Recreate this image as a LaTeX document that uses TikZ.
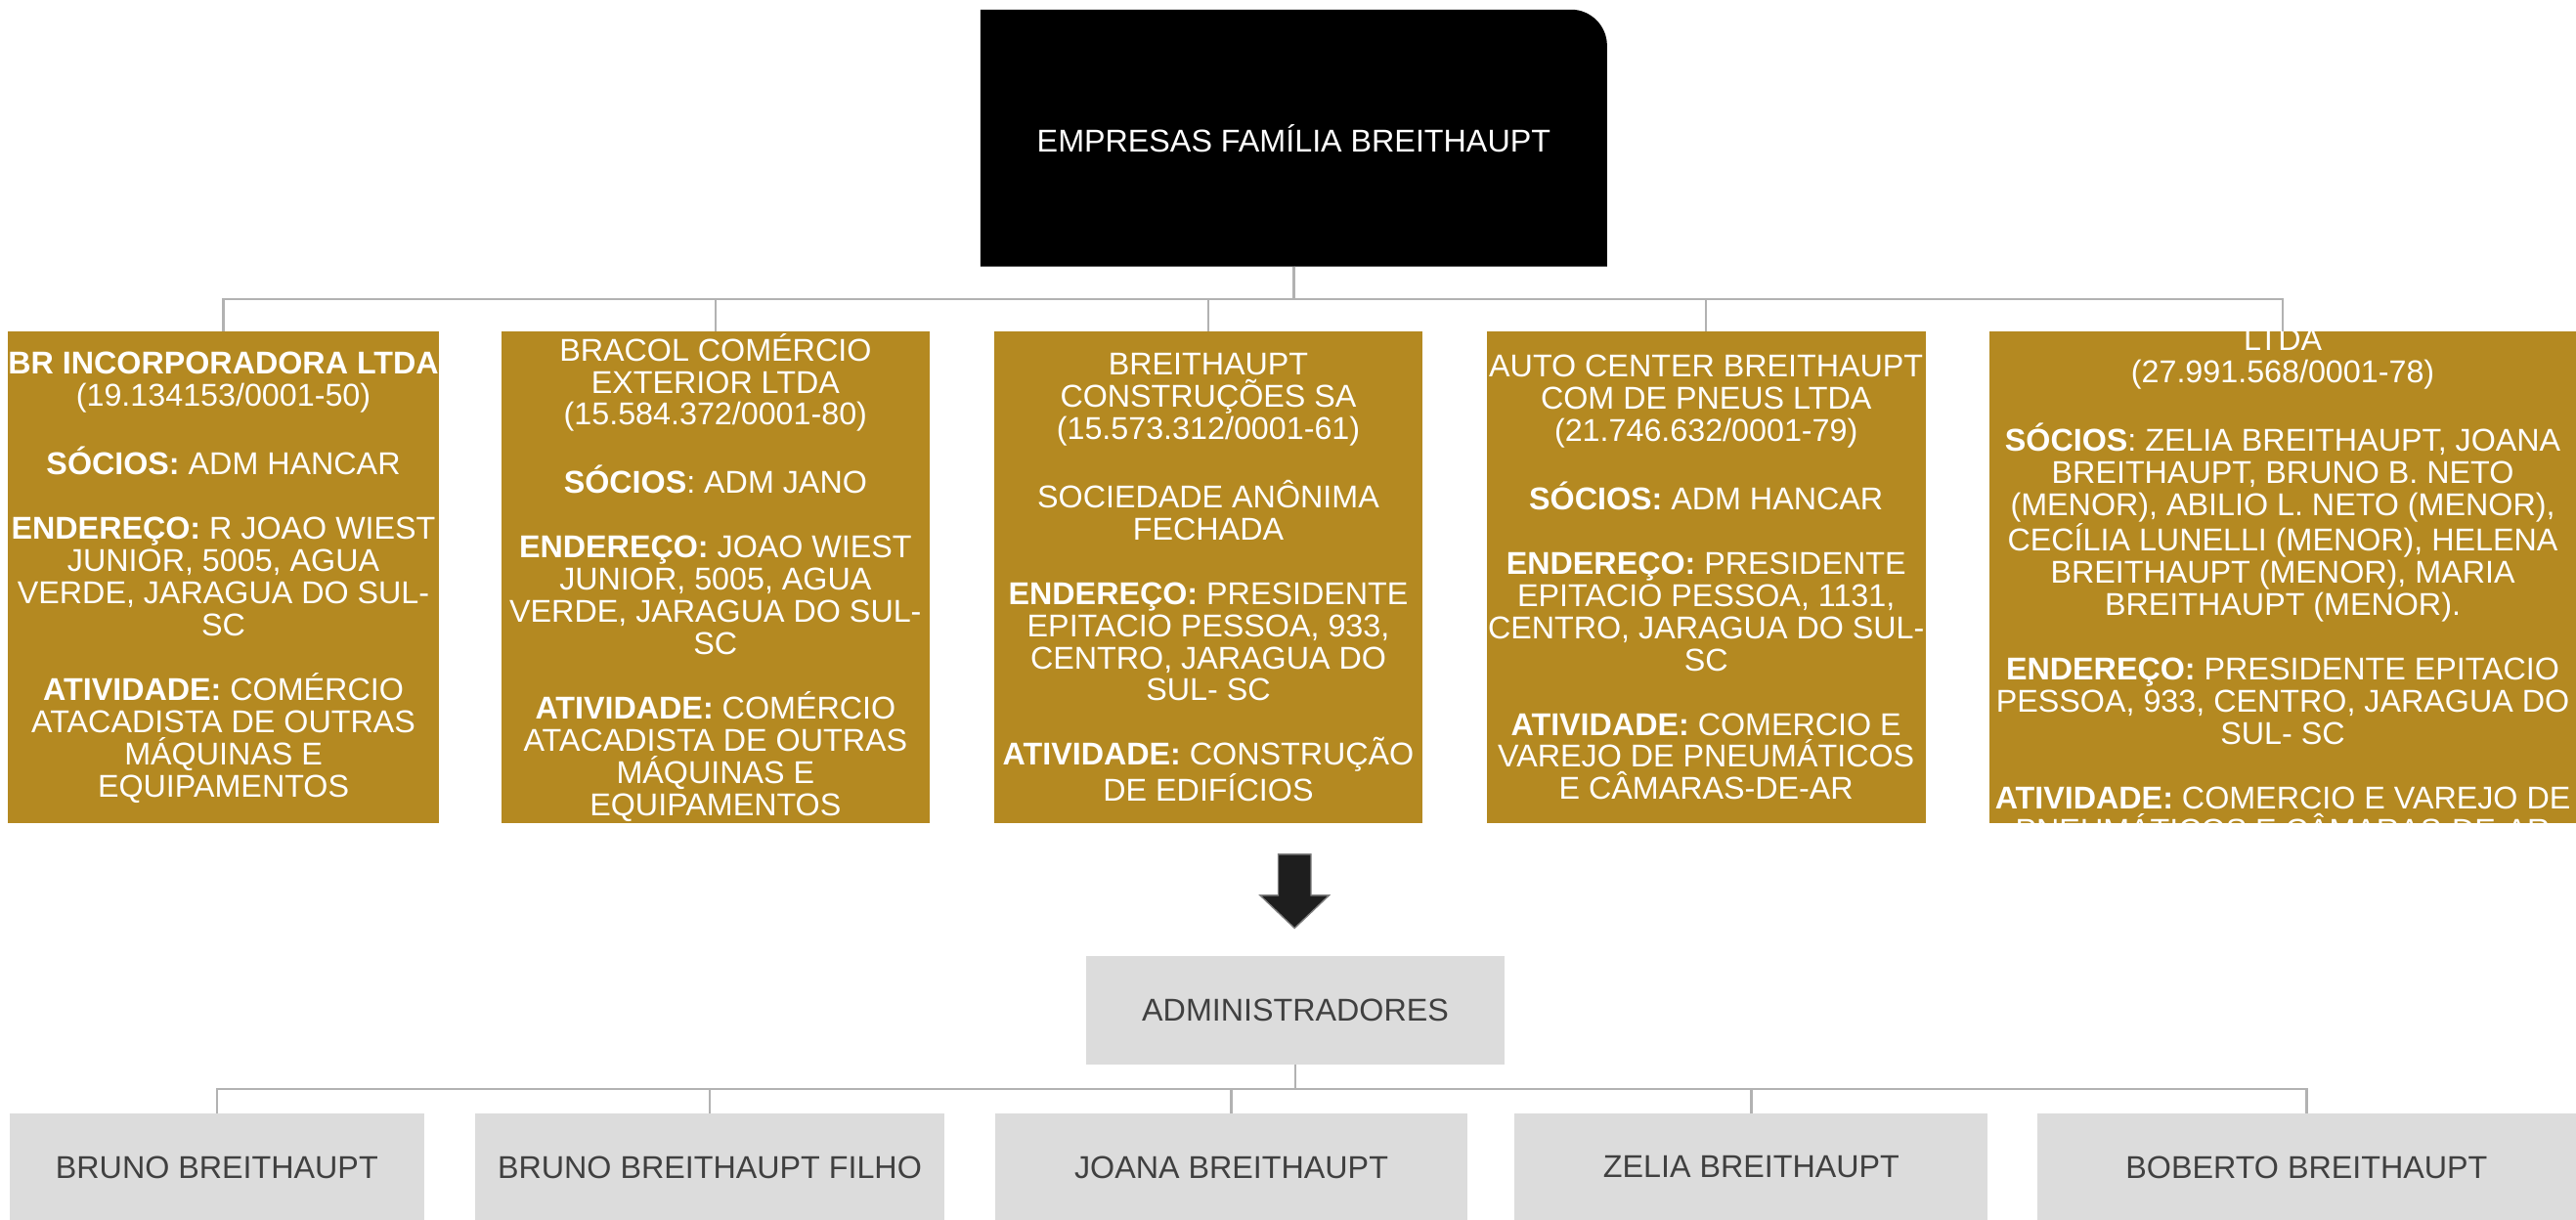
\documentclass[tikz,border=0pt]{standalone}
\usepackage{fontspec}
\setmainfont{Liberation Sans}
\usetikzlibrary{backgrounds}
\definecolor{gold}{RGB}{180,137,33}
\definecolor{boxgray}{RGB}{220,220,220}
\definecolor{txtgray}{RGB}{64,64,64}
\definecolor{linegray}{RGB}{178,178,178}
\definecolor{arrowdark}{RGB}{30,30,30}

\begin{document}
\begin{tikzpicture}[x=1pt, y=1pt]
	\tikzstyle{every node} = [inner sep=0pt, align=center, font=\fontsize{19.2}{19.6}\selectfont]
	\tikzstyle{goldbox} = [fill=gold, text=white, minimum height=299pt]
	\tikzstyle{graybox} = [fill=boxgray, text=txtgray, minimum height=65pt]
	\tikzstyle{conn} = [draw=linegray, line width=1.5pt]
	\useasboundingbox (0,0) rectangle (1568,-742.6);
	% top
	\node[text=white, minimum width=381pt, minimum height=156pt] (top) at (787.5,-84) {EMPRESAS FAMÍLIA BREITHAUPT};
	\begin{pgfonlayer}{background}
		\fill[black] (top.south west) |- ([xshift=-22pt]top.north east) arc[start angle=90, end angle=0, radius=22pt] -- (top.south east) -- cycle;
	\end{pgfonlayer}
	% companies
	\node[goldbox, minimum width=260pt] (g1) at (136,-351.5) {\textbf{BR INCORPORADORA LTDA}\\ (19.134153/0001-50)\\[\baselineskip]
		\textbf{SÓCIOS:} ADM HANCAR\\[\baselineskip]
		\textbf{ENDEREÇO:} R JOAO WIEST\\ JUNIOR, 5005, AGUA\\ VERDE, JARAGUA DO SUL-\\ SC\\[\baselineskip]
		\textbf{ATIVIDADE:} COMÉRCIO\\ ATACADISTA DE OUTRAS\\ MÁQUINAS E\\ EQUIPAMENTOS};
	\node[goldbox, minimum width=261pt] (g2) at (435.5,-351.5) {BRACOL COMÉRCIO\\ EXTERIOR LTDA\\ (15.584.372/0001-80)\\[\baselineskip]
		\textbf{SÓCIOS}: ADM JANO\\[\baselineskip]
		\textbf{ENDEREÇO:} JOAO WIEST\\ JUNIOR, 5005, AGUA\\ VERDE, JARAGUA DO SUL-\\ SC\\[\baselineskip]
		\textbf{ATIVIDADE:} COMÉRCIO\\ ATACADISTA DE OUTRAS\\ MÁQUINAS E\\ EQUIPAMENTOS};
	\node[goldbox, minimum width=261pt] (g3) at (735.5,-351.5) {BREITHAUPT\\ CONSTRUÇÕES SA\\ (15.573.312/0001-61)\\[\baselineskip]
		SOCIEDADE ANÔNIMA\\ FECHADA\\[\baselineskip]
		\textbf{ENDEREÇO:} PRESIDENTE\\ EPITACIO PESSOA, 933,\\ CENTRO, JARAGUA DO\\ SUL- SC\\[\baselineskip]
		\textbf{ATIVIDADE:} CONSTRUÇÃO\\ DE EDIFÍCIOS};
	\node[goldbox, minimum width=267pt] (g4) at (1038.5,-351.5) {AUTO CENTER BREITHAUPT\\ COM DE PNEUS LTDA\\ (21.746.632/0001-79)\\[\baselineskip]
		\textbf{SÓCIOS:} ADM HANCAR\\[\baselineskip]
		\textbf{ENDEREÇO:} PRESIDENTE\\ EPITACIO PESSOA, 1131,\\ CENTRO, JARAGUA DO SUL-\\ SC\\[\baselineskip]
		\textbf{ATIVIDADE:} COMERCIO E\\ VAREJO DE PNEUMÁTICOS\\ E CÂMARAS-DE-AR};
	\node[goldbox, minimum width=357pt] (g5) at (1389.5,-351.5) {};
	\begin{scope}
		\clip (g5.south west) rectangle (g5.north east);
		\node[text=white, anchor=north] (g5txt) at (1389.5,-200) {LTDA\\ (27.991.568/0001-78)\\[\baselineskip]
			\textbf{SÓCIOS}: ZELIA BREITHAUPT, JOANA\\ BREITHAUPT, BRUNO B. NETO\\ (MENOR), ABILIO L. NETO (MENOR),\\ CECÍLIA LUNELLI (MENOR), HELENA\\ BREITHAUPT (MENOR), MARIA\\ BREITHAUPT (MENOR).\\[\baselineskip]
			\textbf{ENDEREÇO:} PRESIDENTE EPITACIO\\ PESSOA, 933, CENTRO, JARAGUA DO\\ SUL- SC\\[\baselineskip]
			\textbf{ATIVIDADE:} COMERCIO E VAREJO DE\\ PNEUMÁTICOS E CÂMARAS-DE-AR};
	\end{scope}
	\coordinate (busA) at (788,-182);
	\foreach \n in {g1,g2,g3,g4,g5}
		\draw[conn] (top.south) -- (top.south |- busA) -| (\n.north);
	% arrow
	\coordinate (arr) at (788,-520);
	\filldraw[fill=arrowdark, draw=gray, line width=0.8pt] (arr) ++(-10,0) -- ++(20,0) -- ++(0,-25) -- ++(11,0) -- ++(-21,-20) -- ++(-21,20) -- ++(11,0) -- cycle;
	% administrators
	\node[graybox, minimum width=255pt, minimum height=66pt] (adm) at (788.5,-615) {ADMINISTRADORES};
	\node[graybox, minimum width=252pt] (p1) at (132,-710.5) {BRUNO BREITHAUPT};
	\node[graybox, minimum width=286pt] (p2) at (432,-710.5) {BRUNO BREITHAUPT FILHO};
	\node[graybox, minimum width=287pt] (p3) at (749.5,-710.5) {JOANA BREITHAUPT};
	\node[graybox, minimum width=288pt] (p4) at (1066,-710.5) {ZELIA BREITHAUPT};
	\node[graybox, minimum width=328pt] (p5) at (1404,-710.5) {BOBERTO BREITHAUPT};
	\coordinate (busB) at (788,-663);
	\foreach \n in {p1,p2,p3,p4,p5}
		\draw[conn] (adm.south) -- (adm.south |- busB) -| (\n.north);
\end{tikzpicture}
\end{document}
